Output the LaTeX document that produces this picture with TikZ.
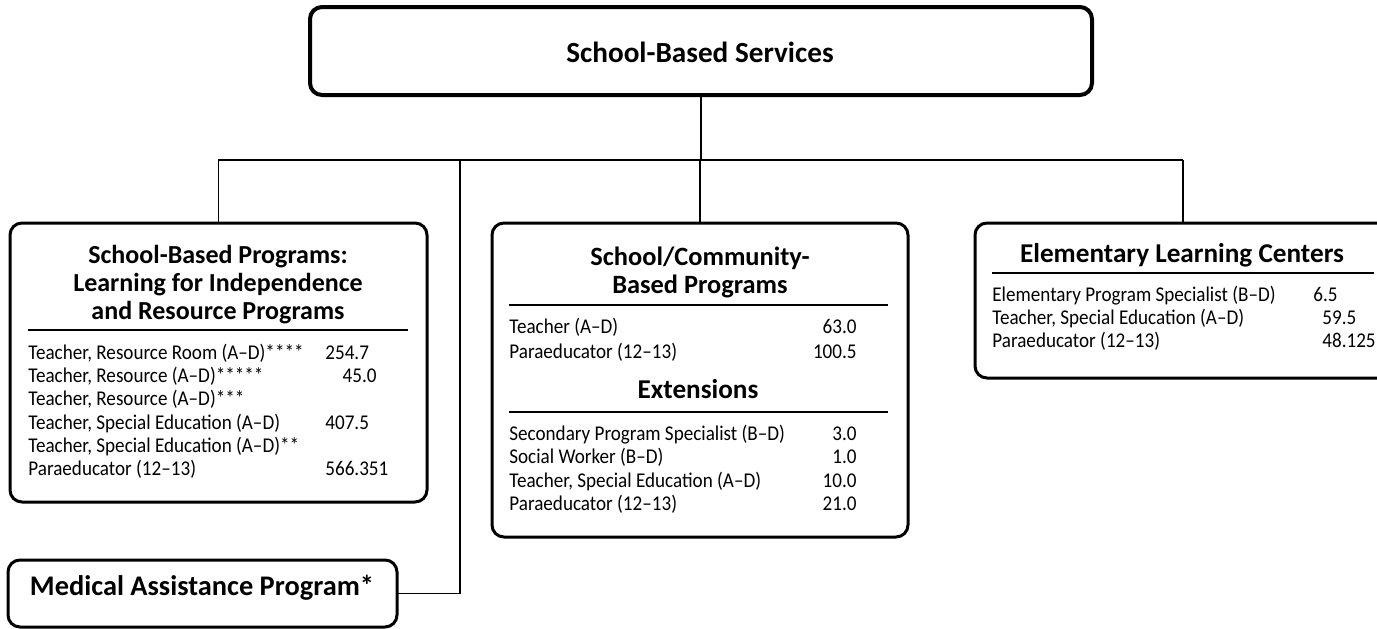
\documentclass[tikz,border=0pt]{standalone}
\usepackage{fontspec}
\setmainfont{Carlito}
\newfontfamily\rowfont[FakeStretch=0.91, Ligatures=TeX]{Carlito}
\usepackage{tikz}

\tikzset{
  box/.style={draw, line width=1.5pt, rounded corners=6pt, inner sep=0pt, outer sep=0pt},
  topbox/.style={box, line width=2pt},
  link/.style={line width=0.8pt},
  rule/.style={line width=1pt},
  head/.style={font=\fontsize{13.6}{15}\selectfont\bfseries, inner sep=0pt, anchor=base},
  bighead/.style={head, font=\fontsize{14.6}{16}\selectfont\bfseries},
  row/.style={font=\rowfont\fontsize{10.5}{12}\selectfont, inner sep=0pt, anchor=base west},
  num/.style={row},
  numr/.style={row, anchor=base east}
}

\begin{document}
\begin{tikzpicture}[x=0.5pt, y=-0.5pt]
        \clip (0,0) rectangle (1377,628);
        % boxes
        \node[topbox, minimum width=391pt, minimum height=44pt] (top) at (701,51) {};
        \node[box, anchor=north west, minimum width=208.5pt, minimum height=139.5pt] (lbox) at (10,223) {};
        \node[box, anchor=north west, minimum width=208pt, minimum height=157pt] (mbox) at (492,223) {};
        \node[box, anchor=north west, minimum width=208pt, minimum height=77.5pt] (rbox) at (975,223) {};
        \node[box, anchor=north west, minimum width=194.5pt, minimum height=33.5pt] (med) at (8,560) {};
        % connectors
        \coordinate (busl) at (218,160);
        \coordinate (busr) at (1183,160);
        \coordinate (medj) at (460,160);
        \draw[link] (top.south) -- (top.south |- busl);
        \draw[link] (busl) -- (busr);
        \draw[link] (lbox.north) -- (lbox.north |- busl);
        \draw[link] (mbox.north) -- (mbox.north |- busl);
        \draw[link] (rbox.north) -- (rbox.north |- busr);
        \draw[link] (medj) -- (medj |- med.east) -- (med.east);
        % titles
        \node[bighead] (toptitle) at (700,62) {School-Based Services};
        \node[head, font=\fontsize{14.2}{16}\selectfont\bfseries] (medtitle) at (202,595) {Medical Assistance Program*};
        \node[head, font=\fontsize{13}{15}\selectfont\bfseries] (lt1) at (218,263) {School-Based Programs:};
        \node[head, font=\fontsize{13}{15}\selectfont\bfseries] (lt2) at (218,291) {Learning for Independence};
        \node[head, font=\fontsize{13}{15}\selectfont\bfseries] (lt3) at (218,319) {and Resource Programs};
        \node[head, font=\fontsize{13.2}{15}\selectfont\bfseries] (mt1) at (700,265) {School/Community-};
        \node[head, font=\fontsize{13.2}{15}\selectfont\bfseries] (mt2) at (700,293) {Based Programs};
        \node[head] (mt3) at (698,398) {Extensions};
        \node[head] (rt1) at (1182,262) {Elementary Learning Centers};
        % rules
        \draw[rule] (28,330) -- (408,330);
        \draw[rule] (509,305) -- (888,305);
        \draw[rule] (509,412) -- (888,412);
        \draw[rule] (992,273) -- (1374,273);
        % left box rows
        \node[row] (l1) at (28,359) {Teacher, Resource Room (A--D)****};
        \node[row] (l2) at (28,382) {Teacher, Resource (A--D)*****};
        \node[row] (l3) at (28,405) {Teacher, Resource (A--D)***};
        \node[row] (l4) at (28,429) {Teacher, Special Education (A--D)};
        \node[row] (l5) at (28,452) {Teacher, Special Education (A--D)**};
        \node[row] (l6) at (28,475) {Paraeducator (12--13)};
        \node[num] (l1n) at (325,359) {254.7};
        \node[numr] (l2n) at (377,382) {45.0};
        \node[num] (l4n) at (325,429) {407.5};
        \node[num] (l6n) at (325,475) {566.351};
        % middle box rows
        \node[row] (m1) at (509,333) {Teacher (A--D)};
        \node[row] (m2) at (509,358) {Paraeducator (12--13)};
        \node[numr] (m1n) at (857,333) {63.0};
        \node[numr] (m2n) at (857,358) {100.5};
        \node[row] (e1) at (509,440) {Secondary Program Specialist (B--D)};
        \node[row] (e2) at (509,463) {Social Worker (B--D)};
        \node[row] (e3) at (509,487) {Teacher, Special Education (A--D)};
        \node[row] (e4) at (509,510) {Paraeducator (12--13)};
        \node[numr] (e1n) at (857,440) {3.0};
        \node[numr] (e2n) at (857,463) {1.0};
        \node[numr] (e3n) at (857,487) {10.0};
        \node[numr] (e4n) at (857,510) {21.0};
        % right box rows
        \node[row] (r1) at (992,301) {Elementary Program Specialist (B--D)};
        \node[row] (r2) at (992,324) {Teacher, Special Education (A--D)};
        \node[row] (r3) at (992,347) {Paraeducator (12--13)};
        \node[numr] (r1n) at (1338,301) {6.5};
        \node[num] (r2n) at (1322,324) {59.5};
        \node[num] (r3n) at (1322,347) {48.125};
      \end{tikzpicture}
\end{document}
